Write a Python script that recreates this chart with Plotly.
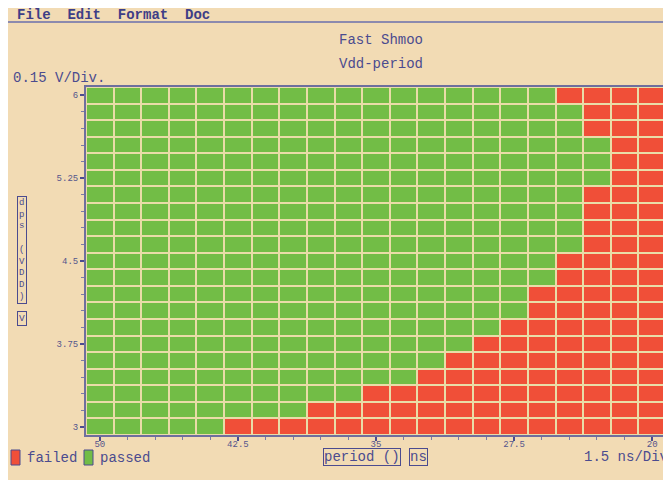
import plotly.graph_objects as go

# Shmoo sweep: supply voltage (rows) vs clock period (columns)
vdd = [3.0, 3.15, 3.3, 3.45, 3.6, 3.75, 3.9, 4.05, 4.2, 4.35, 4.5,
       4.65, 4.8, 4.95, 5.1, 5.25, 5.4, 5.55, 5.7, 5.85, 6.0]
period = [50, 48.5, 47, 45.5, 44, 42.5, 41, 39.5, 38, 36.5, 35,
          33.5, 32, 30.5, 29, 27.5, 26, 24.5, 23, 21.5, 20]
# shortest period that still passes at each Vdd
min_pass_period = [44, 39.5, 36.5, 33.5, 32, 30.5, 29, 27.5, 27.5, 26, 26,
                   24.5, 24.5, 24.5, 24.5, 23, 23, 23, 24.5, 24.5, 26]

x_ticks = [50, 42.5, 35, 27.5, 20]
y_ticks = [3, 3.75, 4.5, 5.25, 6]

BG = "#F2DBB4"
INK = "#4B4B8F"
GREEN = "#72BD46"
RED = "#F04F38"
GRID = "#E9DCA8"
MONO = "Liberation Mono, DejaVu Sans Mono, monospace"

z = [[1 if p >= lim else 0 for p in period] for lim in min_pass_period]

# plot box in figure pixels (page adds an 8px body margin)
OFF = 8
L, R, T, B = 78, 658, 79, 427
W, H = 671, 480


def px_x(p):
    # p is a page (screenshot) pixel
    return (p - OFF - L) / (R - L)


def px_y(p):
    return (B - (p - OFF)) / (B - T)


fig = go.Figure(
    go.Heatmap(
        x=period,
        y=vdd,
        z=z,
        zmin=0,
        zmax=1,
        colorscale=[[0, RED], [0.5, RED], [0.5, GREEN], [1, GREEN]],
        showscale=False,
        xgap=2,
        ygap=2,
        hovertemplate="%{x} ns<br>%{y} V<extra></extra>",
    )
)

axis_common = dict(
    showgrid=False,
    zeroline=False,
    showline=True,
    mirror=True,
    linecolor="#6E6E9E",
    linewidth=2,
    ticks="outside",
    ticklen=4,
    tickwidth=2,
    tickcolor=INK,
    tickfont=dict(family=MONO, size=9, color="#55558C"),
)
fig.update_xaxes(
    **axis_common,
    autorange=False,
    range=[50.75, 19.25],
    tickvals=x_ticks,
    ticktext=[f"{v:g}" for v in x_ticks],
    ticklabelstandoff=-5,
    minor=dict(dtick=1.5, tick0=20, ticks="outside", ticklen=3, tickwidth=1,
               tickcolor="#7A7AA8"),
)
fig.update_yaxes(
    **axis_common,
    range=[2.925, 6.075],
    tickvals=y_ticks,
    ticktext=[f"{v:g}" for v in y_ticks],
    minor=dict(dtick=0.15, tick0=3, ticks="outside", ticklen=3, tickwidth=1,
               tickcolor="#7A7AA8"),
)

shapes = [
    # menu separator
    dict(type="line", xref="paper", yref="paper", x0=px_x(8), x1=px_x(680),
         y0=px_y(22), y1=px_y(22), line=dict(color="#8C8AAE", width=2)),
    # legend swatches
    dict(type="rect", xref="paper", yref="paper", x0=px_x(11), x1=px_x(20),
         y0=px_y(465), y1=px_y(450), fillcolor=RED, line=dict(color=INK, width=1)),
    dict(type="rect", xref="paper", yref="paper", x0=px_x(84), x1=px_x(93),
         y0=px_y(465), y1=px_y(450), fillcolor=GREEN, line=dict(color=INK, width=1)),
]


def label(text, x, y, size=13.5, anchor="left", **kw):
    return dict(text=text, xref="paper", yref="paper", x=px_x(x), y=px_y(y),
                xanchor=anchor, yanchor="middle", showarrow=False,
                font=dict(family=MONO, size=size, color=kw.pop("color", INK)), **kw)


annotations = [
    label("<b>File  Edit  Format  Doc</b>", 15, 15, size=14, color="#3E3E86"),
    label("Fast Shmoo", 381, 40, size=14, anchor="center"),
    label("Vdd-period", 381, 64, size=14, anchor="center"),
    label("0.15 V/Div.", 11, 78, size=14),
    label("d<br>p<br>s<br><br>(<br>V<br>D<br>D<br>)", 22, 250, size=9, anchor="center",
          bordercolor=INK, borderwidth=1, borderpad=1),
    label("V", 22, 318, size=9.5, anchor="center",
          bordercolor=INK, borderwidth=1, borderpad=1),
    label("failed", 25, 458, size=14),
    label("passed", 98, 458, size=14),
    label("period ()", 362, 457, size=14, anchor="center",
          bordercolor=INK, borderwidth=1, borderpad=0),
    label("ns", 418, 457, size=14, anchor="center",
          bordercolor=INK, borderwidth=1, borderpad=0),
    label("1.5 ns/Div.", 582, 457, size=14),
]

fig.update_layout(
    width=W,
    height=H,
    margin=dict(l=L, r=W - R, t=T, b=H - B),
    paper_bgcolor=BG,
    plot_bgcolor=GRID,
    showlegend=False,
    shapes=shapes,
    annotations=annotations,
)

fig.write_html("out.html")
